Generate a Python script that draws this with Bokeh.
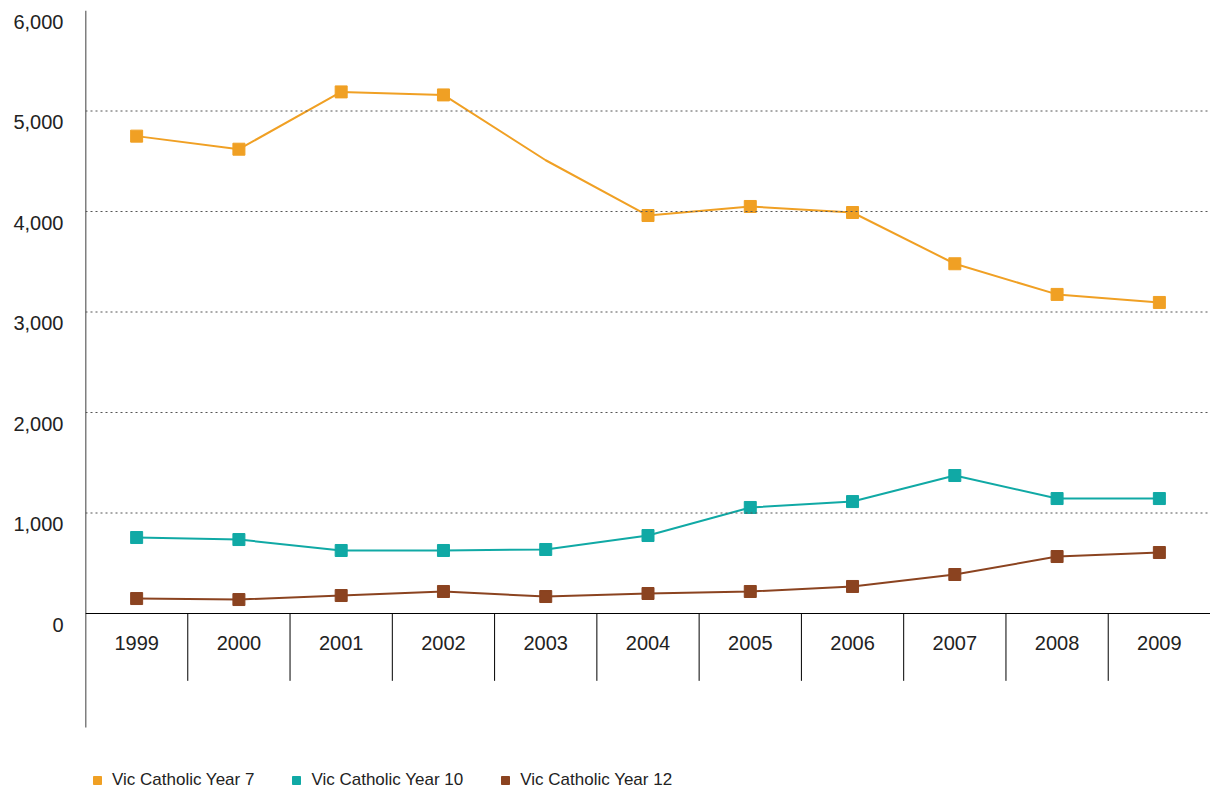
from bokeh.plotting import figure
from bokeh.models import FixedTicker, Legend, LegendItem, Span
from bokeh.embed import file_html
from bokeh.resources import INLINE

years = [1999, 2000, 2001, 2002, 2003, 2004, 2005, 2006, 2007, 2008, 2009]
year7 = [4750, 4620, 5190, 5160, 4510, 3960, 4050, 3990, 3480, 3175, 3095]
year10 = [756, 736, 627, 627, 637, 776, 1055, 1114, 1373, 1144, 1144]
year12 = [149, 139, 179, 219, 169, 199, 219, 269, 388, 567, 607]
y_ticks = [0, 1000, 2000, 3000, 4000, 5000, 6000]

FONT = "Liberation Sans"
ORANGE, TEAL, BROWN = "#f0a024", "#10a9a5", "#8b4320"

# frame runs down to the page bottom so the legend can sit inside it
p = figure(frame_width=1125, frame_height=782, x_range=(1998.5, 2009.5), y_range=(-1781, 6000),
           output_backend="svg", toolbar_location=None,
           min_border_left=85, min_border_top=10, min_border_right=0, min_border_bottom=0)
p.outline_line_color = None
p.xaxis.visible = False
p.xgrid.visible = False
p.ygrid.visible = False

# tick labels sit a little below their lines in the original
shift = 110
p.yaxis.ticker = FixedTicker(ticks=[v - shift for v in y_ticks])
p.yaxis.major_label_overrides = {v - shift: f"{v:,}" for v in y_ticks}
p.yaxis.major_tick_line_color = None
p.yaxis.minor_tick_line_color = None
p.yaxis.axis_line_color = None
p.yaxis.major_label_text_font = FONT
p.yaxis.major_label_text_font_size = "20px"
p.yaxis.major_label_text_color = "#222222"
p.yaxis.major_label_standoff = 16

p.segment(x0=[1998.5], y0=[6000], x1=[1998.5], y1=[-1134], line_color="black", line_width=1.5)

for v in y_ticks[1:-1]:
    p.add_layout(Span(location=v, dimension="width", line_color="#555555",
                      line_dash="2 3", line_width=1))
p.segment(x0=[1998.5], y0=[0], x1=[2009.5], y1=[0], line_color="black", line_width=1)

p.segment(x0=[y + 0.5 for y in years[:-1]], y0=0, x1=[y + 0.5 for y in years[:-1]], y1=-670,
          line_color="black", line_width=1)
p.text(x=years, y=[-290] * len(years), text=[str(y) for y in years],
       text_align="center", text_baseline="middle", text_font_size="20px",
       text_font={"value": FONT}, text_color="#222222")

items = []
for vals, col, name in [(year7, ORANGE, "Vic Catholic Year 7"),
                        (year10, TEAL, "Vic Catholic Year 10"),
                        (year12, BROWN, "Vic Catholic Year 12")]:
    p.line(years, vals, line_color=col, line_width=2)
    if vals is year7:
        mx = [x for x in years if x != 2003]
        my = [v for x, v in zip(years, vals) if x != 2003]
    else:
        mx, my = years, vals
    r = p.scatter(mx, my, marker="square", size=12, fill_color=col, line_color=col)
    items.append(LegendItem(label=name, renderers=[r]))

legend = Legend(items=items, orientation="horizontal", location="bottom_left",
                label_text_font=FONT, label_text_font_size="17px",
                label_text_color="#222222", border_line_color=None,
                background_fill_alpha=0,
                glyph_width=20, glyph_height=20, spacing=32, padding=0,
                margin=2)
p.add_layout(legend)

open("out.html", "w").write(file_html(p, INLINE))
